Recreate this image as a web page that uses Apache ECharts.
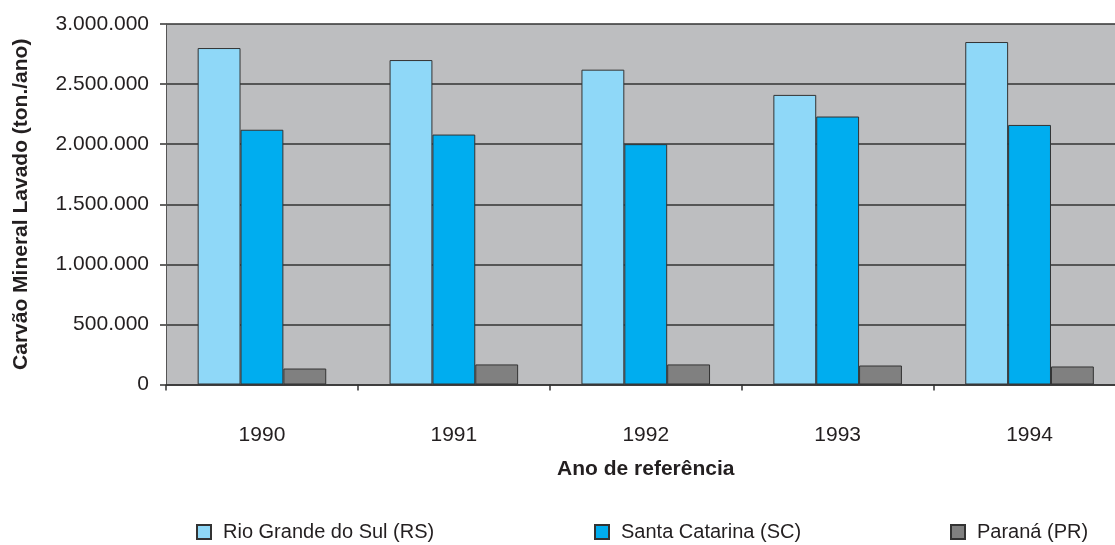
<!DOCTYPE html>
<html>
<head>
<meta charset="utf-8">
<script src="https://cdn.jsdelivr.net/npm/echarts@6/dist/echarts.min.js"></script>
<style>
  html, body { margin: 0; padding: 0; background: #fff; }
  #chart { width: 1115px; height: 545px; }
</style>
</head>
<body>
<div id="chart"></div>
<script>
// dados
var anos = ['1990', '1991', '1992', '1993', '1994'];
var rs = [2800000, 2700000, 2620000, 2410000, 2850000];
var sc = [2120000, 2080000, 2000000, 2230000, 2160000];
var pr = [133000, 167000, 167000, 158000, 150000];
var nomes = ['Rio Grande do Sul (RS)', 'Santa Catarina (SC)', 'Paraná (PR)'];
var cores = ['#8fd8f8', '#00adef', '#808080'];

var fonte = 'Liberation Sans, Arial, sans-serif';

function milhar(v) {
  return String(v).replace(/\B(?=(\d{3})+(?!\d))/g, '.');
}

var chart = echarts.init(document.getElementById('chart'));

function serie(i, dados) {
  return {
    name: nomes[i],
    type: 'bar',
    data: dados,
    barGap: '0%',
    barCategoryGap: '33%',
    itemStyle: { color: cores[i], borderColor: '#333', borderWidth: 1 }
  };
}

function legenda(i, left) {
  return {
    data: [nomes[i]],
    left: left,
    top: 522,
    padding: 0,
    icon: 'rect',
    itemWidth: 14,
    itemHeight: 14,
    textStyle: { fontFamily: fonte, fontSize: 20, color: '#231f20', padding: [0, 0, 0, 7] }
  };
}

var option = {
  animation: false,
  // a área do gráfico passa um pouco da borda direita
  grid: {
    left: 166, top: 24, width: 959.5, height: 360.5,
    outerBoundsMode: 'none',
    show: true, backgroundColor: '#bdbec0', borderWidth: 0
  },
  legend: [legenda(0, 196), legenda(1, 594), legenda(2, 950)],
  xAxis: {
    type: 'category',
    data: anos,
    name: 'Ano de referência',
    nameLocation: 'middle',
    nameGap: 74,
    nameTextStyle: { fontFamily: fonte, fontSize: 21, fontWeight: 'bold', color: '#231f20' },
    axisLine: { lineStyle: { color: '#333', width: 1.5 } },
    axisTick: { show: true, length: 6, lineStyle: { color: '#333', width: 1.5 } },
    axisLabel: { margin: 40, fontFamily: fonte, fontSize: 21, color: '#231f20' }
  },
  yAxis: {
    type: 'value',
    min: 0,
    max: 3000000,
    interval: 500000,
    name: 'Carvão Mineral Lavado (ton./ano)',
    nameLocation: 'middle',
    nameGap: 134,
    nameTextStyle: { fontFamily: fonte, fontSize: 21, fontWeight: 'bold', color: '#231f20' },
    axisLine: { show: true, lineStyle: { color: '#555', width: 1 } },
    axisTick: { show: true, length: 6, lineStyle: { color: '#333', width: 1.5 } },
    axisLabel: { margin: 17, fontFamily: fonte, fontSize: 21, color: '#231f20', formatter: milhar },
    splitLine: { lineStyle: { color: '#333', width: 1.5 } }
  },
  series: [serie(0, rs), serie(1, sc), serie(2, pr)]
};

chart.setOption(option);
</script>
</body>
</html>
